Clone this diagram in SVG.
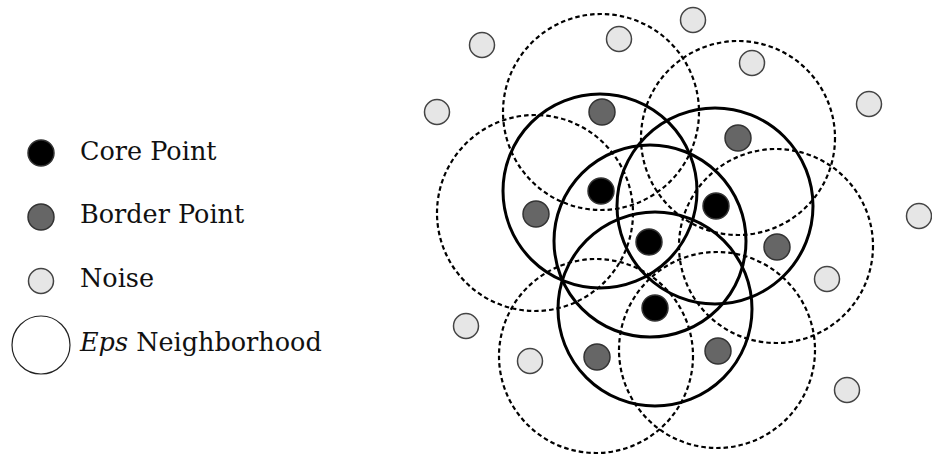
<svg xmlns="http://www.w3.org/2000/svg" width="932" height="457" viewBox="0 0 932 457">
<style>
.core{fill:#000;stroke:#333;stroke-width:1.5}
.border{fill:#666;stroke:#333;stroke-width:1.5}
.noise{fill:#e6e6e6;stroke:#444;stroke-width:1.5}
.eps{fill:none;stroke:#000;stroke-width:3}
.epsd{fill:none;stroke:#000;stroke-width:2.2;stroke-dasharray:4.5 3}
.lbl{font-family:"DejaVu Serif",serif;font-size:25.5px;fill:#111}
</style>
<rect width="932" height="457" fill="#fff"/>
<g id="legend">
<g id="legend-core"><circle class="core" cx="41" cy="153" r="13"/><text class="lbl" x="80" y="160">Core Point</text></g>
<g id="legend-border"><circle class="border" cx="41" cy="217" r="13"/><text class="lbl" x="80" y="223">Border Point</text></g>
<g id="legend-noise"><circle class="noise" cx="41" cy="281" r="12.5"/><text class="lbl" x="80" y="287">Noise</text></g>
<g id="legend-eps"><circle cx="41" cy="345" r="29" fill="#fff" stroke="#222" stroke-width="1.2"/><text class="lbl" x="80" y="351"><tspan font-style="italic">Eps</tspan> Neighborhood</text></g>
</g>
<g id="neighborhoods">
<g id="eps-b1"><circle class="epsd" cx="601" cy="112" r="98"/></g>
<g id="eps-b2"><circle class="epsd" cx="738" cy="138" r="97"/></g>
<g id="eps-b3"><circle class="epsd" cx="535" cy="213" r="98"/></g>
<g id="eps-b4"><circle class="epsd" cx="776" cy="246" r="97"/></g>
<g id="eps-b5"><circle class="epsd" cx="596" cy="356" r="97"/></g>
<g id="eps-b6"><circle class="epsd" cx="717" cy="350" r="98"/></g>
<g id="eps-c1"><circle class="eps" cx="600" cy="191" r="97"/></g>
<g id="eps-c2"><circle class="eps" cx="715" cy="206" r="98"/></g>
<g id="eps-c3"><circle class="eps" cx="650" cy="241" r="96"/></g>
<g id="eps-c4"><circle class="eps" cx="655" cy="309" r="97"/></g>
</g>
<g id="points">
<g id="core1"><circle class="core" cx="601" cy="191" r="13"/></g>
<g id="core2"><circle class="core" cx="716" cy="206" r="13"/></g>
<g id="core3"><circle class="core" cx="649" cy="242" r="13"/></g>
<g id="core4"><circle class="core" cx="655" cy="308" r="13"/></g>
<g id="border1"><circle class="border" cx="602" cy="112" r="13"/></g>
<g id="border2"><circle class="border" cx="738" cy="138" r="13"/></g>
<g id="border3"><circle class="border" cx="536" cy="214" r="13"/></g>
<g id="border4"><circle class="border" cx="777" cy="247" r="13"/></g>
<g id="border5"><circle class="border" cx="597" cy="357" r="13"/></g>
<g id="border6"><circle class="border" cx="718" cy="351" r="13"/></g>
<g id="noise1"><circle class="noise" cx="482" cy="45" r="12.5"/></g>
<g id="noise2"><circle class="noise" cx="619" cy="39" r="12.5"/></g>
<g id="noise3"><circle class="noise" cx="693" cy="20" r="12.5"/></g>
<g id="noise4"><circle class="noise" cx="752" cy="63" r="12.5"/></g>
<g id="noise5"><circle class="noise" cx="437" cy="112" r="12.5"/></g>
<g id="noise6"><circle class="noise" cx="869" cy="104" r="12.5"/></g>
<g id="noise7"><circle class="noise" cx="919" cy="216" r="12.5"/></g>
<g id="noise8"><circle class="noise" cx="827" cy="279" r="12.5"/></g>
<g id="noise9"><circle class="noise" cx="466" cy="326" r="12.5"/></g>
<g id="noise10"><circle class="noise" cx="530" cy="361" r="12.5"/></g>
<g id="noise11"><circle class="noise" cx="847" cy="390" r="12.5"/></g>
</g>
</svg>
